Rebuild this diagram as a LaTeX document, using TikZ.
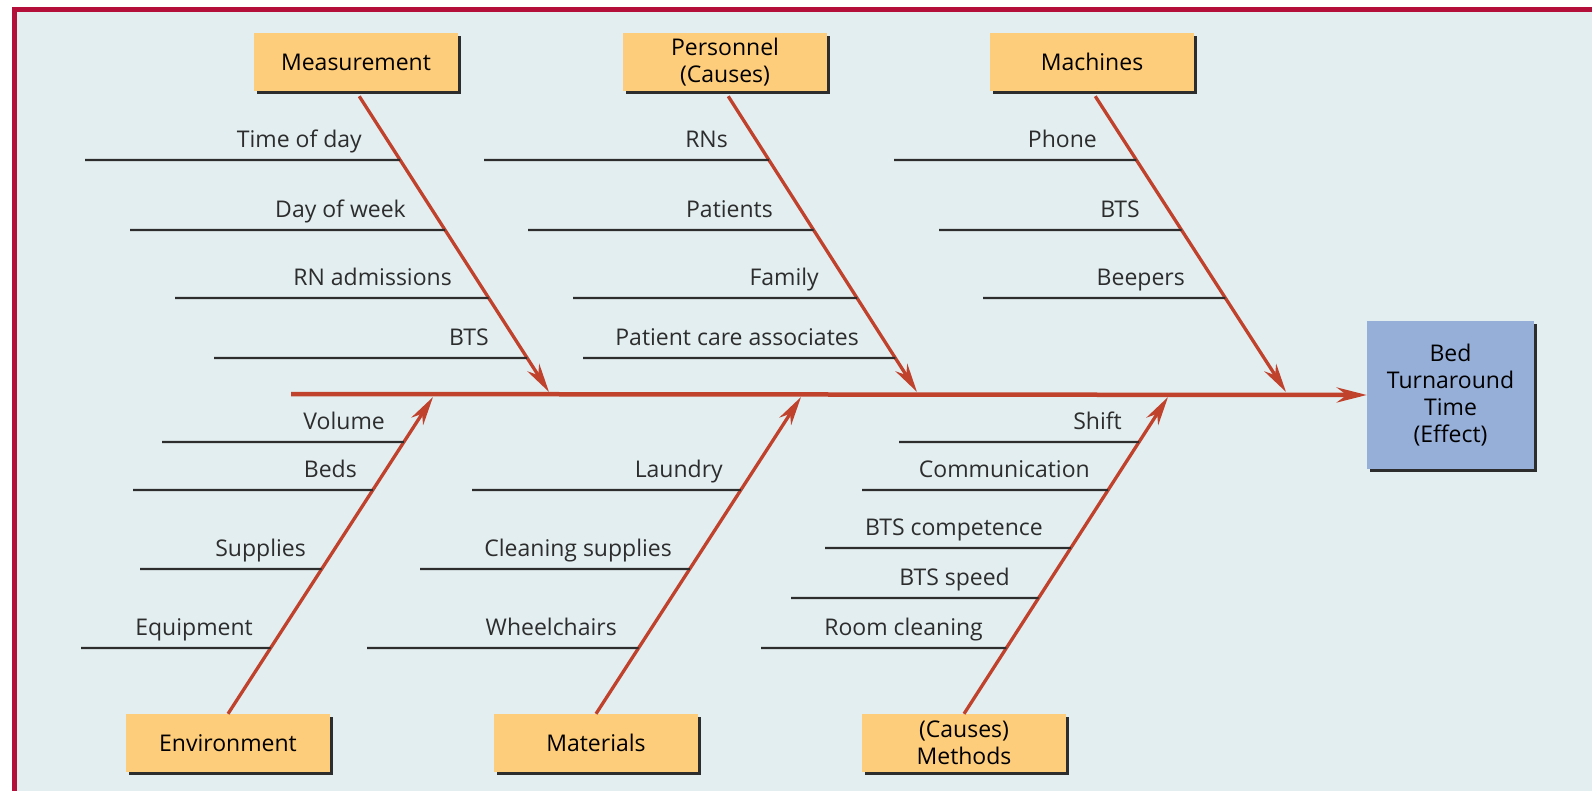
\documentclass[tikz,border=0pt]{standalone}
\usepackage{fontspec}
\setmainfont{Open Sans}
\usetikzlibrary{arrows.meta,shadows}

\definecolor{framered}{RGB}{180,14,58}
\definecolor{panel}{RGB}{227,238,240}
\definecolor{causefill}{RGB}{254,205,124}
\definecolor{effectfill}{RGB}{150,175,217}
\definecolor{bonered}{RGB}{192,66,44}
\definecolor{ribgray}{RGB}{45,45,45}

\tikzset{
  boxshadow/.style={drop shadow={shadow xshift=3pt, shadow yshift=-3pt, fill=ribgray, opacity=1}},
  causebox/.style={fill=causefill, minimum width=204pt, minimum height=58pt,
    align=center, inner sep=0pt, font=\fontsize{23}{27}\selectfont, boxshadow},
  effectbox/.style={fill=effectfill, minimum width=167pt, minimum height=148pt,
    align=center, inner sep=0pt, font=\fontsize{23}{27}\selectfont, boxshadow},
  spine/.style={draw=bonered, line width=4.5pt, -{Stealth[length=30pt,width=15pt,inset=10pt]}},
  bone/.style={draw=bonered, line width=3.3pt, -{Stealth[length=29pt,width=14pt,inset=9pt]}},
  rib/.style={draw=ribgray, line width=2.3pt},
  riblabel/.style={inner sep=0pt, anchor=base east, text=ribgray, font=\fontsize{23}{27}\selectfont},
}

% one cause line: bone start, bone end, y, left x, label right x, label, name
\newcommand\ribline[7]{%
  \coordinate (#7-l) at (#4,#3);
  \coordinate (#7-r) at (intersection cs: first line={(#1)--(#2)}, second line={(0,#3)--(100,#3)});
  \draw[rib] (#7-l) -- (#7-r);
  \node[riblabel] (#7) at (#5,#3-12.5) {#6};
}

\begin{document}
\begin{tikzpicture}[x=1pt,y=-1pt]
  \useasboundingbox (0,0) rectangle (1592,791);
  \fill[white] (0,0) rectangle (1592,791);
  \fill[panel] (14,10) rectangle (1592,791);
  \draw[framered, line width=5pt] (14,791) -- (14,10) -- (1592,10);

  % category boxes
  \node[causebox] (meas) at (356,62) {Measurement};
  \node[causebox] (pers) at (725,62) {Personnel\\(Causes)};
  \node[causebox] (mach) at (1092,62) {Machines};
  \node[causebox] (envi) at (228,743) {Environment};
  \node[causebox] (matl) at (596,743) {Materials};
  \node[causebox] (meth) at (964,743) {(Causes)\\Methods};

  % effect
  \node[effectbox] (effect) at (1450.5,395) {Bed\\Turnaround\\Time\\(Effect)};

  % spine and where the bones meet it
  \coordinate (spinestart) at (291,394);
  \coordinate (mtip) at (549,392);
  \coordinate (ptip) at (917,392);
  \coordinate (ctip) at (1286,392);
  \coordinate (etip) at (433,397);
  \coordinate (atip) at (801,397);
  \coordinate (htip) at (1168,397);

  \draw[spine] (spinestart) -- (effect.west);

  \draw[bone, shorten <=6pt] (meas.south) -- (mtip);
  \draw[bone, shorten <=6pt] (pers.south) -- (ptip);
  \draw[bone, shorten <=6pt] (mach.south) -- (ctip);
  \draw[bone] (envi.north) -- (etip);
  \draw[bone] (matl.north) -- (atip);
  \draw[bone] (meth.north) -- (htip);

  % Measurement
  \ribline{meas.south}{mtip}{160}{85}{362}{Time of day}{m1}
  \ribline{meas.south}{mtip}{230}{130}{406}{Day of week}{m2}
  \ribline{meas.south}{mtip}{298}{175}{452}{RN admissions}{m3}
  \ribline{meas.south}{mtip}{358}{214}{489}{BTS}{m4}
  % Personnel
  \ribline{pers.south}{ptip}{160}{484}{728}{RNs}{p1}
  \ribline{pers.south}{ptip}{230}{528}{773}{Patients}{p2}
  \ribline{pers.south}{ptip}{298}{573}{819}{Family}{p3}
  \ribline{pers.south}{ptip}{358}{583}{859}{Patient care associates}{p4}
  % Machines
  \ribline{mach.south}{ctip}{160}{894}{1097}{Phone}{c1}
  \ribline{mach.south}{ctip}{230}{939}{1140}{BTS}{c2}
  \ribline{mach.south}{ctip}{298}{983}{1185}{Beepers}{c3}
  % Environment
  \ribline{envi.north}{etip}{442}{162}{385}{Volume}{e1}
  \ribline{envi.north}{etip}{490}{133}{357}{Beds}{e2}
  \ribline{envi.north}{etip}{569}{140}{306}{Supplies}{e3}
  \ribline{envi.north}{etip}{648}{81}{253}{Equipment}{e4}
  % Materials
  \ribline{matl.north}{atip}{490}{472}{723}{Laundry}{a1}
  \ribline{matl.north}{atip}{569}{420}{672}{Cleaning supplies}{a2}
  \ribline{matl.north}{atip}{648}{367}{617}{Wheelchairs}{a3}
  % Methods
  \ribline{meth.north}{htip}{442}{899}{1122}{Shift}{h1}
  \ribline{meth.north}{htip}{490}{862}{1090}{Communication}{h2}
  \ribline{meth.north}{htip}{548}{825}{1043}{BTS competence}{h3}
  \ribline{meth.north}{htip}{598}{791}{1010}{BTS speed}{h4}
  \ribline{meth.north}{htip}{648}{761}{983}{Room cleaning}{h5}
\end{tikzpicture}
\end{document}
